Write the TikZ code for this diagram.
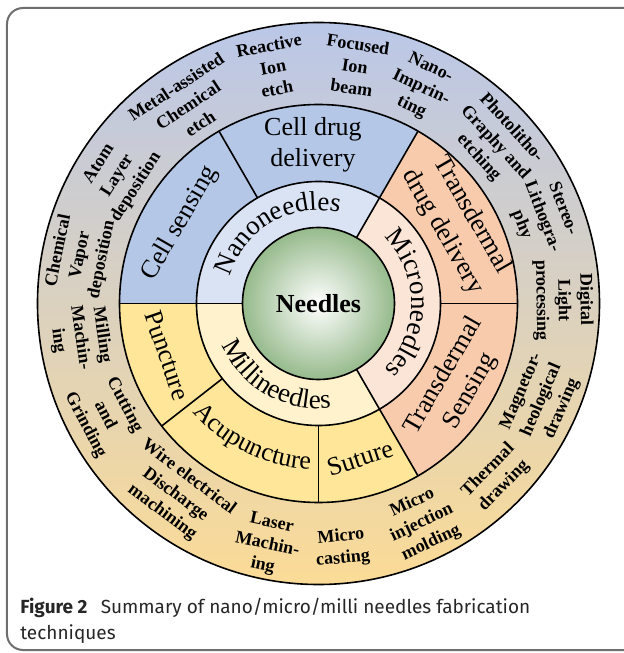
\documentclass[tikz,border=0pt]{standalone}
\usepackage{fontspec}
\setmainfont{Liberation Serif}
\newfontfamily\capfont{Fira Sans}
\usetikzlibrary{decorations.text}

\definecolor{framegray}{RGB}{110,110,110}
\definecolor{needlegreen}{RGB}{150,186,140}
\definecolor{nanolight}{RGB}{218,227,243}
\definecolor{microlight}{RGB}{251,229,214}
\definecolor{millilight}{RGB}{255,242,204}
\definecolor{nanoblue}{RGB}{180,199,231}
\definecolor{micropeach}{RGB}{248,203,173}
\definecolor{milliyellow}{RGB}{255,230,153}
\definecolor{outtop}{RGB}{186,199,232}
\definecolor{outmid}{RGB}{234,202,184}
\definecolor{outbot}{RGB}{251,219,150}

\tikzset{
    ringline/.style={line width=0.8pt},
    tech/.style={align=center, inner sep=0pt, font=\fontsize{9}{11}\selectfont\bfseries},
    usage/.style={align=center, inner sep=0pt, font=\fontsize{13}{15.5}\selectfont},
}

\begin{document}
\begin{tikzpicture}[x=0.5pt, y=0.5pt]
        \useasboundingbox (-318.5,-349.5) rectangle (305.5,303.5);
        \draw[framegray, line width=1pt, rounded corners=8pt] (-311.5,295.5) rectangle (340,-346.5);

        \shade[top color=outtop, middle color=outmid, bottom color=outbot] (0,0) circle[radius=281];

        \fill[nanoblue] (0,0) -- (60:199) arc[start angle=60, end angle=180, radius=199] -- cycle;
        \fill[micropeach] (0,0) -- (-60:199) arc[start angle=-60, end angle=60, radius=199] -- cycle;
        \fill[milliyellow] (0,0) -- (180:199) arc[start angle=180, end angle=300, radius=199] -- cycle;

        \fill[nanolight] (0,0) -- (60:122) arc[start angle=60, end angle=180, radius=122] -- cycle;
        \fill[microlight] (0,0) -- (-60:122) arc[start angle=-60, end angle=60, radius=122] -- cycle;
        \fill[millilight] (0,0) -- (180:122) arc[start angle=180, end angle=300, radius=122] -- cycle;

        \shade[inner color=white, outer color=needlegreen] (0,0) circle[radius=76];

        \draw[ringline] (0,0) circle[radius=281] (0,0) circle[radius=199] (0,0) circle[radius=122] (0,0) circle[radius=76];
        \foreach \a in {60,180,300}
            \draw[ringline] (\a:76) -- (\a:199);
        \foreach \a in {0,120,218,270}
            \draw[ringline] (\a:122) -- (\a:199);

        \node[font=\fontsize{13}{15}\selectfont\bfseries] (needles) at (0,0) {Needles};

        \path[decorate, decoration={text along path, text align=center, text={|\fontsize{13.5}{15}\selectfont|Nanoneedles}}]
            (175:93) arc[start angle=175, end angle=65, radius=93];
        \path[decorate, decoration={text along path, text align=center, text={|\fontsize{13.5}{15}\selectfont|Microneedles}}]
            (55:93) arc[start angle=55, end angle=-55, radius=93];
        \path[decorate, decoration={text along path, text align=center, text={|\fontsize{13.5}{15}\selectfont|Millineedles}}]
            (185:105) arc[start angle=185, end angle=295, radius=105];

        \node[usage] (celldrug) at (92:159) {Cell drug\\delivery};
        \node[usage, rotate=60] (cellsense) at (150:160) {Cell sensing};
        \node[usage, rotate=-60, font=\fontsize{13}{17}\selectfont] (skindrug) at (30:160) {Transdermal\\drug delivery};
        \node[usage, rotate=60] (skinsense) at (-30:160) {Transdermal\\Sensing};
        \node[usage, rotate=18] (suture) at (285:160) {Suture};
        \node[usage, rotate=-71] (puncture) at (199:160) {Puncture};
        \path[decorate, decoration={text along path, text align=center, text={|\fontsize{13}{15}\selectfont|Acupuncture}}]
            (219:166) arc[start angle=219, end angle=269, radius=166];

        \node[tech, rotate=78.5] (cvd) at (168.5:243) {Chemical\\Vapor\\deposition};
        \node[tech, rotate=57.5] (ald) at (147.5:238) {Atom\\Layer\\deposition};
        \node[tech, rotate=33.3] (mace) at (123.3:237.5) {Metal-assisted\\Chemical\\etch};
        \node[tech, rotate=10.9] (rie) at (100.9:240.8) {Reactive\\Ion\\etch};
        \node[tech, rotate=-8.7] (fib) at (81.3:240.3) {Focused\\Ion\\beam};
        \node[tech, rotate=-25.4] (nil) at (64.6:238.6) {Nano-\\Imprin-\\ting};
        \node[tech, rotate=-47.7] (photo) at (42.3:238.6) {Photolitho-\\Graphy and\\etching};
        \node[tech, rotate=-68.8] (stereo) at (21.2:239.7) {Stereo-\\Lithogra-\\phy};
        \node[tech, rotate=-89.2] (dlp) at (0.8:244.5) {Digital\\Light\\processing};
        \node[tech, rotate=66.6] (magneto) at (-23.4:243.4) {Magnetor-\\heological\\drawing};
        \node[tech, rotate=45.5] (thermal) at (-44.5:249) {Thermal\\drawing};
        \node[tech, rotate=25.2] (injection) at (-64.8:242.7) {Micro\\injection\\molding};
        \node[tech, rotate=5.5] (casting) at (-84.5:245.6) {Micro\\casting};
        \node[tech, rotate=-12] (laser) at (-102:246.9) {Laser\\Machin-\\ing};
        \node[tech, rotate=-36.8] (wedm) at (-126.8:239) {Wire electrical\\Discharge\\machining};
        \node[tech, rotate=-62.4] (grinding) at (-152.4:241) {Cutting\\and\\Grinding};
        \node[tech, rotate=-81.8] (milling) at (-171.8:241) {Milling\\Machin-\\ing};

        \node[anchor=base west, align=left, inner sep=0pt, text=black!85, font=\capfont\fontsize{9.5}{13}\selectfont] (caption) at (-298.5,-335.5)
            {\textbf{Figure 2}\hspace{0.7em}Summary of nano/micro/milli needles fabrication\\techniques};
\end{tikzpicture}
\end{document}
